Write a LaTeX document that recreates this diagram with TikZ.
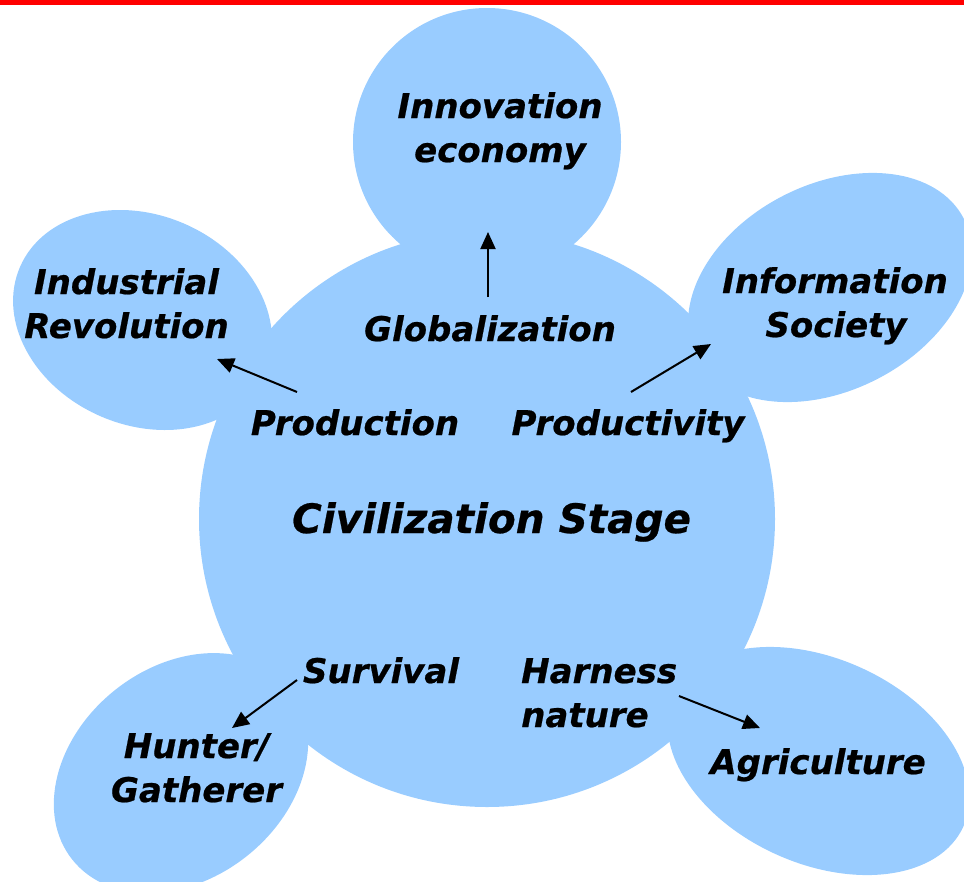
\documentclass[tikz,border=0pt]{standalone}
\usepackage{fontspec}
\setmainfont{DejaVu Sans}[BoldItalicFeatures={FakeBold=0.6}]
\usetikzlibrary{arrows.meta,shapes.geometric}
\definecolor{blob}{RGB}{153,204,255}
\begin{document}
\begin{tikzpicture}[x=1pt,y=-1pt,
  blobshape/.style={fill=blob, draw=none, inner sep=0pt, outer sep=0pt},
  lbl/.style={font=\fontsize{34}{40}\selectfont\bfseries\itshape, inner sep=0pt, anchor=base},
  biglbl/.style={font=\fontsize{40.5}{48}\selectfont\bfseries\itshape, inner sep=0pt, anchor=base},
  arr/.style={line width=2pt, -{Triangle[length=17pt,width=15pt]}}]
\useasboundingbox (0,0) rectangle (964,881);
\clip (0,0) rectangle (964,881);
\fill[red] (0,0) rectangle (964,4.5);
% shapes
\node[blobshape, circle, minimum size=576pt] (civ) at (487,519) {};
\node[blobshape, circle, minimum size=268pt] (innov) at (487,142) {};
\node[blobshape, ellipse, minimum width=267pt, minimum height=210pt, rotate=-23.4] (indus) at (142.5,320) {};
\node[blobshape, ellipse, minimum width=301pt, minimum height=206pt, rotate=27.2] (info) at (830,287.5) {};
\node[blobshape, ellipse, minimum width=278pt, minimum height=212pt, rotate=38.6] (hunt) at (181,773) {};
\node[blobshape, ellipse, minimum width=318pt, minimum height=205pt, rotate=-24.3] (agri) at (818.5,761) {};
% labels
\node[lbl] (tinnov1) at (500,118) {Innovation};
\node[lbl] (tinnov2) at (500,162) {economy};
\node[lbl] (tind1) at (126.5,294) {Industrial};
\node[lbl] (tind2) at (126.5,338) {Revolution};
\node[lbl] (tinfo1) at (835,293) {Information};
\node[lbl] (tinfo2) at (836,337) {Society};
\node[lbl] (tglob) at (490,341) {Globalization};
\node[lbl] (tprod) at (355,435) {Production};
\node[lbl] (tprody) at (628,435) {Productivity};
\node[biglbl] (tciv) at (491.5,533) {Civilization Stage};
\node[lbl] (tsurv) at (381,683) {Survival};
\node[lbl, anchor=base west] (tharn1) at (521,683) {Harness};
\node[lbl, anchor=base west] (tharn2) at (521,727) {nature};
\node[lbl] (thunt1) at (196.5,758) {Hunter/};
\node[lbl] (thunt2) at (196.5,802) {Gatherer};
\node[lbl] (tagri) at (818,774) {Agriculture};
% arrows
\coordinate (aprods) at (297,392); \coordinate (aprode) at (217,359);
\coordinate (aglobs) at (488,297); \coordinate (aglobe) at (488,232);
\coordinate (aprodys) at (631,392); \coordinate (aprodye) at (711,344);
\coordinate (asurvs) at (297,680); \coordinate (asurve) at (232,728);
\coordinate (aharns) at (679,696); \coordinate (aharne) at (760,728);
\draw[arr] (aprods) -- (aprode);
\draw[arr] (aglobs) -- (aglobe);
\draw[arr] (aprodys) -- (aprodye);
\draw[arr] (asurvs) -- (asurve);
\draw[arr] (aharns) -- (aharne);
\end{tikzpicture}
\end{document}
